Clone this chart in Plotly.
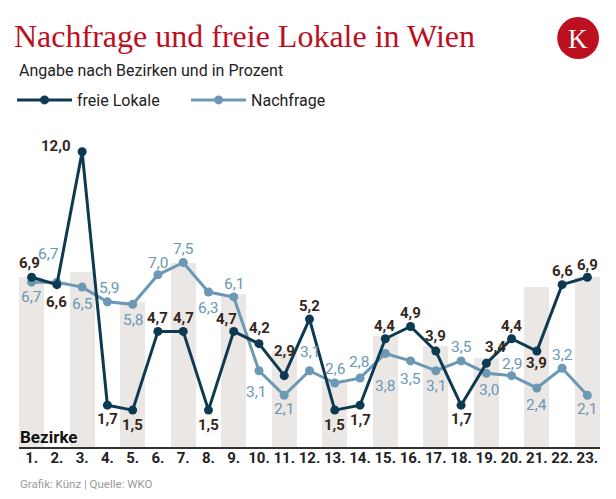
import plotly.graph_objects as go

# ---------------- data ----------------
bezirke = ["1.", "2.", "3.", "4.", "5.", "6.", "7.", "8.", "9.", "10.", "11.", "12.",
           "13.", "14.", "15.", "16.", "17.", "18.", "19.", "20.", "21.", "22.", "23."]
freie_lokale = [6.9, 6.6, 12.0, 1.7, 1.5, 4.7, 4.7, 1.5, 4.7, 4.2, 2.9, 5.2,
                1.5, 1.7, 4.4, 4.9, 3.9, 1.7, 3.4, 4.4, 3.9, 6.6, 6.9]
nachfrage = [6.7, 6.7, 6.5, 5.9, 5.8, 7.0, 7.5, 6.3, 6.1, 3.1, 2.1, 3.1,
             2.6, 2.8, 3.8, 3.5, 3.1, 3.5, 3.0, 2.9, 2.4, 3.2, 2.1]
# background stripes (odd districts), heights
stripes = [6.9, None, 7.1, None, 5.9, None, 7.5, None, 6.2, None, 3.9, None,
           2.7, None, 4.5, None, 4.1, None, 3.6, None, 6.5, None, 6.9]

# label offsets in pixels (dx, dy downwards)
freie_off = [(-2, -14), (0, 17), (-26, -6), (0, 14), (0, 15), (0, -13), (0, -13), (0, 15),
             (-7, -12), (1, -16), (0, -25), (0, -13), (0, 15), (0, 15), (-1, -13), (0, -13),
             (0, -15), (0, 14), (9, -16), (0, -13), (0, 12), (0, -14), (0, -12)]
nach_off = [(0, 15), (-8, -28), (0, 17), (2, -14), (0, 16), (0, -12), (0, -14), (0, 16),
            (0, -13), (-3, 21), (0, 14), (0, -19), (0, -14), (-1, -16), (0, 32), (0, 18),
            (0, 15), (0, -14), (3, 17), (0, -12), (0, 17), (0, -13), (0, 14)]

# ---------------- style ----------------
C_FREIE = "#0d3a52"
C_NACH = "#6b98b5"
C_FREIE_TXT = "#36271d"
C_STRIPE = "#ebe7e4"
C_RED = "#bc0f1f"
FONT = "Roboto"

fig = go.Figure()

fig.add_trace(go.Bar(x=bezirke, y=stripes, marker=dict(color=C_STRIPE, line=dict(width=0)),
                     showlegend=False, hoverinfo="skip"))
fig.add_trace(go.Scatter(x=bezirke, y=nachfrage, mode="lines+markers", name="Nachfrage",
                         line=dict(color=C_NACH, width=3), marker=dict(size=9, color=C_NACH),
                         legendrank=2))
fig.add_trace(go.Scatter(x=bezirke, y=freie_lokale, mode="lines+markers", name="freie Lokale",
                         line=dict(color=C_FREIE, width=3), marker=dict(size=9, color=C_FREIE),
                         legendrank=1))

def fmt(v):
    return f"{v:.1f}".replace(".", ",")

ann = []
for i, (v, (dx, dy)) in enumerate(zip(freie_lokale, freie_off)):
    ann.append(dict(x=i, y=v, xref="x", yref="y", text=f"<b>{fmt(v)}</b>", showarrow=False,
                    xshift=dx, yshift=-dy, xanchor="center", yanchor="middle",
                    font=dict(family=FONT, size=15, color=C_FREIE_TXT)))
for i, (v, (dx, dy)) in enumerate(zip(nachfrage, nach_off)):
    ann.append(dict(x=i, y=v, xref="x", yref="y", text=fmt(v), showarrow=False,
                    xshift=dx, yshift=-dy, xanchor="center", yanchor="middle",
                    font=dict(family=FONT, size=15.5, color=C_NACH)))

PLOT_L, PLOT_T, PLOT_W, PLOT_H = 16, 137, 584, 310
def px(xp):
    return (xp - PLOT_L) / PLOT_W
def py(yp):
    return (PLOT_T + PLOT_H - yp) / PLOT_H

ann.append(dict(x=px(14), y=py(70), xref="paper", yref="paper", text="Angabe nach Bezirken und in Prozent",
                showarrow=False, xanchor="left", yanchor="middle",
                font=dict(family=FONT, size=16, color="#222222")))
ann.append(dict(x=px(15), y=py(437), xref="paper", yref="paper", text="<b>Bezirke</b>",
                showarrow=False, xanchor="left", yanchor="middle",
                font=dict(family=FONT, size=17, color="#111111")))
ann.append(dict(x=px(15), y=py(484), xref="paper", yref="paper", text="Grafik: Künz | Quelle: WKO",
                showarrow=False, xanchor="left", yanchor="middle",
                font=dict(family=FONT, size=11.5, color="#9a9a9a")))
ann.append(dict(x=px(578), y=py(39), xref="paper", yref="paper", text="K",
                showarrow=False, xanchor="center", yanchor="middle",
                font=dict(family="Liberation Serif", size=27, color="white")))

shapes = [dict(type="circle", xref="paper", yref="paper", x0=px(557), x1=px(599),
               y0=py(59), y1=py(17), fillcolor=C_RED, line=dict(width=0), layer="above")]

fig.update_layout(
    width=616, height=499,
    margin=dict(l=PLOT_L, r=616 - PLOT_L - PLOT_W, t=PLOT_T, b=499 - PLOT_T - PLOT_H, pad=0),
    paper_bgcolor="white", plot_bgcolor="white",
    title=dict(text="Nachfrage und freie Lokale in Wien", xref="container", yref="container",
               x=14 / 616, xanchor="left", y=1 - 36 / 499, yanchor="middle",
               font=dict(family="Liberation Serif", size=32, color=C_RED)),
    bargap=0,
    showlegend=True,
    legend=dict(orientation="h", x=px(9), y=py(100), xanchor="left", yanchor="middle",
                font=dict(family=FONT, size=16, color="#222222"), bgcolor="rgba(0,0,0,0)",
                traceorder="normal", entrywidth=104, entrywidthmode="pixels", itemwidth=55),
    xaxis=dict(type="category", range=[-0.5, 22.5], showgrid=False, zeroline=False,
               showline=True, linecolor="#333333", linewidth=1.5, ticks="",
               ticklabelstandoff=-4,
               tickfont=dict(family=FONT, size=15, color="#222222", weight="bold"),
               fixedrange=True),
    yaxis=dict(range=[0, PLOT_H / 24.6], showgrid=False, zeroline=False, showline=False,
               showticklabels=False, fixedrange=True),
    annotations=ann,
    shapes=shapes,
    hovermode=False,
)

fig.write_html("out.html")
